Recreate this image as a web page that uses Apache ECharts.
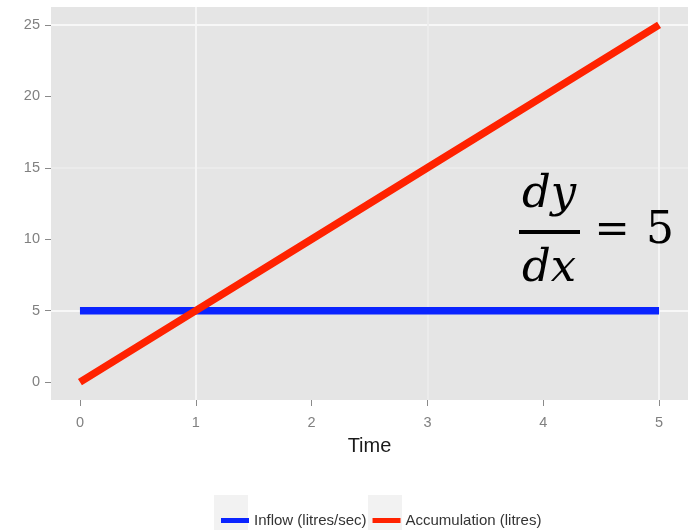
<!DOCTYPE html>
<html>
<head>
<meta charset="utf-8">
<script src="https://cdn.jsdelivr.net/npm/echarts@6/dist/echarts.min.js"></script>
<style>
html,body{margin:0;padding:0;background:#fff;}
#chart{width:688px;height:530px;}
</style>
</head>
<body>
<div id="chart"></div>
<script>
// ---- data ----
var time = [0, 1, 2, 3, 4, 5];
var inflow = [5, 5, 5, 5, 5, 5];
var accumulation = [0, 5, 10, 15, 20, 25];
var xTicks = [0, 1, 2, 3, 4, 5];
var yTicks = [0, 5, 10, 15, 20, 25];
var seriesNames = ['Inflow (litres/sec)', 'Accumulation (litres)'];
var xTitle = 'Time';

var FONT = "'Liberation Sans Narrow', 'Arial Narrow', 'Liberation Sans', Arial, sans-serif";
var SERIF = "'DejaVu Serif', 'Liberation Serif', serif";

function pairs(xs, ys) { return xs.map(function (x, i) { return [x, ys[i]]; }); }

var chart = echarts.init(document.getElementById('chart'));
var major = '#f7f7f7', minor = '#ebebeb', none = 'rgba(0,0,0,0)';

chart.setOption({
  animation: false,
  backgroundColor: '#ffffff',
  grid: { left: 51, top: 7, width: 641, height: 393, backgroundColor: '#e5e5e5', show: true, borderWidth: 0 },
  xAxis: {
    type: 'value', min: -0.25, max: 5.25, interval: 0.25,
    name: xTitle, nameLocation: 'middle', nameGap: 36,
    nameTextStyle: { fontFamily: FONT, fontSize: 20, color: '#1a1a1a' },
    axisLine: { show: false, onZero: false },
    axisTick: { show: true, length: 6, customValues: xTicks, lineStyle: { color: '#8a8a8a', width: 1 } },
    axisLabel: { margin: 15, customValues: xTicks, fontFamily: FONT, fontSize: 14.5, color: '#808080',
      formatter: function (v) { return xTicks.indexOf(v) >= 0 ? String(v) : ''; } },
    splitLine: { show: true, lineStyle: { color: [none, major, none, minor], width: 1.8 } }
  },
  yAxis: {
    type: 'value', min: -1.25, max: 26.25, interval: 1.25,
    axisLine: { show: false, onZero: false },
    axisTick: { show: true, length: 6, customValues: yTicks, lineStyle: { color: '#8a8a8a', width: 1 } },
    axisLabel: { margin: 11, customValues: yTicks, fontFamily: FONT, fontSize: 14.5, color: '#808080',
      formatter: function (v) { return yTicks.indexOf(v) >= 0 ? String(v) : ''; } },
    splitLine: { show: true, lineStyle: { color: [none, major, none, minor], width: 1.8 } }
  },
  legend: {
    left: 216, top: 508, itemWidth: 28, itemHeight: 5, itemGap: 6, icon: 'rect',
    textStyle: { fontFamily: FONT, fontSize: 15, color: '#333333' },
    data: seriesNames
  },
  graphic: [
    { type: 'rect', z: -1, shape: { x: 214, y: 495, width: 34, height: 35 }, style: { fill: '#f2f2f2' } },
    { type: 'rect', z: -1, shape: { x: 368, y: 495, width: 34, height: 35 }, style: { fill: '#f2f2f2' } },
    { type: 'text', z: 100, x: 549, y: 195, style: { text: 'dy', font: 'italic 45px ' + SERIF, fill: '#000', align: 'center', verticalAlign: 'middle' } },
    { type: 'rect', z: 100, shape: { x: 519, y: 230, width: 61, height: 4 }, style: { fill: '#000' } },
    { type: 'text', z: 100, x: 549, y: 269, style: { text: 'dx', font: 'italic 45px ' + SERIF, fill: '#000', align: 'center', verticalAlign: 'middle' } },
    { type: 'text', z: 100, x: 612, y: 232, style: { text: '=', font: '42px ' + SERIF, fill: '#000', align: 'center', verticalAlign: 'middle' } },
    { type: 'text', z: 100, x: 660, y: 232, style: { text: '5', font: '44px ' + SERIF, fill: '#000', align: 'center', verticalAlign: 'middle' } }
  ],
  series: [
    { name: seriesNames[0], type: 'line', data: pairs(time, inflow), showSymbol: false, symbol: 'none',
      color: '#0a24ff', lineStyle: { color: '#0a24ff', width: 7.5, cap: 'butt' }, z: 2 },
    { name: seriesNames[1], type: 'line', data: pairs(time, accumulation), showSymbol: false, symbol: 'none',
      color: '#ff2200', lineStyle: { color: '#ff2200', width: 7.5, cap: 'butt' }, z: 3 }
  ]
});
</script>
</body>
</html>
